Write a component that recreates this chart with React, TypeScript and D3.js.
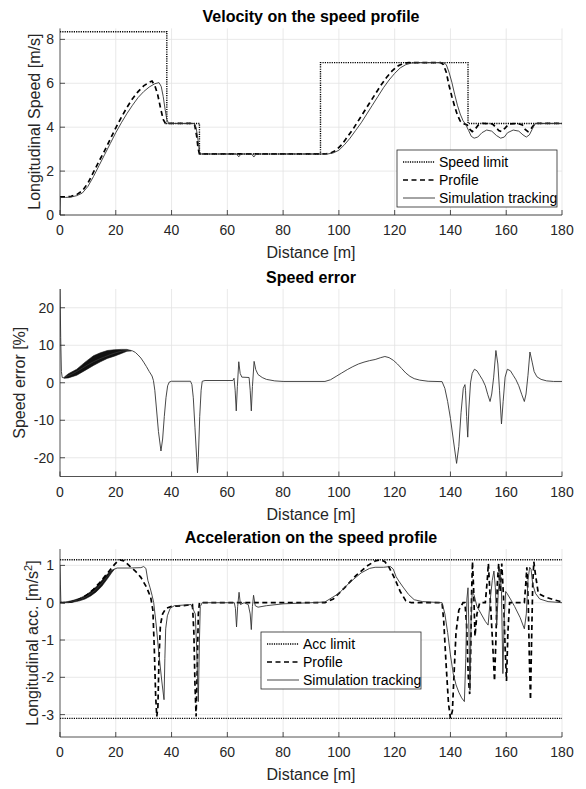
import React from 'react';
import * as d3 from 'd3';

type Pt = [number, number];
type BandPt = [number, number, number];

const distanceTicks = [0, 20, 40, 60, 80, 100, 120, 140, 160, 180];
const speedTicks = [0, 2, 4, 6, 8];
const errorTicks = [-20, -10, 0, 10, 20];
const accTicks = [-3, -2, -1, 0, 1];

// velocity panel
const speedLimit: Pt[] = [[0, 8.35], [38.3, 8.35], [38.3, 4.17], [50, 4.17], [50, 2.78], [93.4, 2.78], [93.4, 6.94], [146.3, 6.94], [146.3, 4.17], [180, 4.17]];
const speedProfile: Pt[] = [[0, 0.83], [2, 0.83], [4, 0.85], [6, 0.93], [8, 1.1], [10, 1.45], [12, 1.95], [14, 2.45], [16, 2.93], [18, 3.45], [20, 3.97], [22, 4.45], [24, 4.9], [26, 5.3], [28, 5.62], [30, 5.88], [32, 6.05], [33, 6.1], [34, 5.9], [35, 5.5], [36, 4.9], [37, 4.35], [37.8, 4.17], [47.6, 4.17], [48.3, 4.1], [49, 3.6], [49.5, 3.05], [50, 2.78], [95, 2.78], [97, 2.82], [99, 2.95], [101, 3.2], [103, 3.55], [105, 3.9], [107, 4.3], [109, 4.7], [111, 5.1], [113, 5.5], [115, 5.9], [117, 6.25], [119, 6.55], [121, 6.78], [123, 6.9], [125, 6.94], [136.5, 6.94], [137.5, 6.85], [138.5, 6.5], [139.5, 5.9], [140.5, 5.4], [141.5, 4.95], [142.5, 4.55], [143.5, 4.28], [144.5, 4.17], [146, 4.1], [147, 3.9], [147.8, 3.8], [148.8, 3.9], [150, 4.1], [151.5, 4.17], [155, 4.15], [156.3, 4.0], [157.3, 3.85], [158.3, 3.8], [159.5, 3.95], [161, 4.15], [164, 4.17], [165.8, 4.1], [166.8, 3.9], [167.8, 3.8], [169, 3.95], [170.3, 4.17], [180, 4.17]];
const speedSim: Pt[] = [[0, 0], [0.15, 0.8], [2, 0.8], [4, 0.82], [6, 0.88], [8, 1.0], [10, 1.3], [12, 1.75], [14, 2.25], [16, 2.75], [18, 3.25], [20, 3.75], [22, 4.2], [24, 4.62], [26, 5.0], [28, 5.35], [30, 5.62], [32, 5.83], [34, 5.98], [35.5, 6.03], [36.3, 5.85], [37, 5.4], [37.7, 4.8], [38.3, 4.35], [39, 4.17], [48, 4.17], [48.8, 4.0], [49.5, 3.4], [50, 2.9], [50.5, 2.78], [63.3, 2.78], [64.1, 2.65], [64.9, 2.78], [68.7, 2.78], [69.5, 2.64], [70.3, 2.78], [96, 2.78], [98, 2.83], [100, 2.95], [102, 3.2], [104, 3.5], [106, 3.85], [108, 4.2], [110, 4.6], [112, 5.0], [114, 5.4], [116, 5.8], [118, 6.15], [120, 6.45], [122, 6.7], [124, 6.85], [126, 6.92], [128, 6.94], [137.5, 6.94], [138.5, 6.85], [139.5, 6.5], [140.5, 6.05], [141.5, 5.5], [142.5, 5.0], [143.5, 4.6], [144.5, 4.3], [145.5, 4.12], [146.5, 3.85], [147.5, 3.58], [148.5, 3.5], [149.8, 3.55], [151.3, 3.75], [153, 3.87], [154.8, 3.82], [156.5, 3.62], [158, 3.5], [159.3, 3.55], [160.5, 3.75], [162.5, 3.87], [164.5, 3.82], [166, 3.65], [167.2, 3.55], [168.3, 3.65], [169.3, 3.9], [170.3, 4.15], [171, 4.17], [180, 4.17]];

// speed error panel
const speedError: Pt[] = [[0, 26], [0.25, 12], [0.5, 3], [0.8, 1.4], [1.5, 1.3], [2, 1.6], [4, 2.2], [6, 3], [8, 3.9], [10, 4.8], [12, 5.6], [14, 6.3], [16, 6.9], [18, 7.5], [20, 8], [22, 8.4], [24, 8.6], [25, 8.6], [26, 8.5], [27, 8.1], [28, 7.4], [29, 6.6], [30, 5.5], [31, 4.3], [32, 3], [33, 1.8], [33.5, 0.6], [34, -2], [34.6, -7], [35.3, -13], [36.2, -18.2], [36.8, -15], [37.4, -9], [38, -4], [38.6, -0.8], [39.2, 0.2], [40, 0.4], [46.8, 0.4], [47.3, -0.5], [47.8, -4], [48.4, -12], [49, -20], [49.3, -24], [49.6, -20], [50.1, -9], [50.6, -2], [51, 0.4], [52, 0.6], [62, 0.6], [62.4, 1.2], [62.8, -2], [63.2, -7.5], [63.6, -1], [64.1, 5.6], [64.6, 2.5], [65.2, 1.5], [67.8, 1.4], [68.2, -2], [68.6, -7.5], [69, -1], [69.6, 5.7], [70.2, 3.5], [71, 2.2], [72.5, 1.4], [74, 0.9], [77, 0.5], [80, 0.35], [95, 0.35], [97, 0.8], [99, 1.7], [101, 2.6], [103, 3.5], [105, 4.3], [107, 5.0], [109, 5.5], [111, 5.9], [113, 6.2], [115, 6.7], [116.5, 7], [118, 6.7], [119.5, 6], [121, 5], [122.5, 3.8], [124, 2.6], [125.5, 1.7], [127, 1.1], [129, 0.7], [132, 0.4], [137, 0.3], [138, -1.5], [139, -5], [140, -9.5], [141, -15], [142.2, -21.5], [143, -17], [143.8, -8], [144.6, -1.5], [145.2, -0.5], [145.4, -2], [145.8, -9], [146.2, -14.5], [146.6, -7], [147.2, 0], [147.8, 2.5], [148.6, 3.6], [149.5, 3.2], [150.5, 2.0], [151.5, 0.8], [152.5, -0.8], [153.4, -3.2], [154.2, -5], [154.8, -3], [155.5, 1.5], [156.3, 8.6], [157, 5], [157.6, -2], [158.3, -11], [158.9, -5], [159.6, 1.5], [160.4, 3.6], [161.5, 3.2], [162.5, 2.0], [163.5, 0.8], [164.5, -0.8], [165.6, -3.2], [166.5, -5], [167.1, -3], [167.8, 2], [168.5, 8.2], [169.3, 5.5], [170, 3], [171, 1.6], [172.5, 0.9], [174.5, 0.5], [177, 0.35], [180, 0.35]];
// oscillation envelope [distance, upper, lower]
const errorBand: BandPt[] = [[1.5, 1.5, 1.2], [3, 2.4, 1.3], [6, 3.6, 2.0], [9, 5.5, 3.3], [12, 7.2, 4.6], [14.5, 8.0, 5.6], [17, 8.6, 6.5], [19.5, 8.8, 7.1], [22, 8.9, 7.8], [24, 8.9, 8.4], [25.5, 8.6, 8.5]];

// acceleration panel
const accLimitUp: Pt[] = [[0, 1.15], [180, 1.15]];
const accLimitLow: Pt[] = [[0, -3.1], [180, -3.1]];
const accProfile: Pt[] = [[0, 0], [2, 0.005], [4, 0.02], [6, 0.06], [8, 0.13], [10, 0.23], [12, 0.36], [14, 0.52], [16, 0.7], [18, 0.88], [19.5, 1.02], [20.5, 1.1], [21.5, 1.15], [23, 1.12], [25, 0.98], [27, 0.85], [29, 0.68], [31, 0.42], [32.5, 0.15], [33.3, -0.2], [33.8, -1.2], [34.3, -2.5], [34.7, -3.05], [35.1, -2.8], [35.5, -1.5], [36, -0.6], [36.8, -0.3], [38, -0.15], [40, -0.1], [44, -0.08], [47.5, -0.05], [48, -0.8], [48.4, -2.2], [48.8, -3.05], [49.2, -1.8], [49.6, -0.3], [50, 0], [95, 0], [98, 0.1], [102, 0.4], [106, 0.72], [110, 0.98], [113, 1.12], [115, 1.15], [116.5, 1.1], [118, 0.95], [120, 0.65], [122, 0.3], [124, 0.05], [126, 0], [137, 0], [137.6, -0.5], [138.4, -1.6], [139.3, -2.7], [140, -3.1], [140.7, -2.9], [141.3, -1.9], [142, -0.8], [143, -0.2], [144.5, 0], [145.2, 0], [145.8, -0.6], [146.4, -2.0], [146.9, -2.45], [147.3, -1.2], [147.6, 0.3], [147.9, 1.1], [148.3, 0.4], [148.8, -0.9], [149.5, -0.3], [150.5, 0], [152.5, 0], [153.2, 0.6], [153.6, 1.05], [154.2, 0.2], [155.2, -1.2], [155.8, -2.1], [156.3, -1.0], [156.8, 0.5], [157.3, 1.05], [157.8, 0.3], [158.4, 1.05], [159, 0.2], [159.6, -1.2], [160.1, -2.1], [160.6, -0.8], [161.2, 0], [166.5, 0], [167, 0.5], [167.4, 0.95], [167.9, 0], [168.3, -1.5], [168.7, -2.6], [169.1, -1.0], [169.5, 0.5], [169.9, 1.1], [170.4, 0.8], [171.5, 0.25], [174, 0.15], [177, 0.08], [180, 0.02]];
const accSim: Pt[] = [[0, 1.0], [0.15, 0.5], [0.3, 0.02], [1, 0], [3, 0.01], [5, 0.045], [7, 0.085], [9, 0.145], [11, 0.24], [13, 0.36], [15, 0.52], [17, 0.7], [18.5, 0.83], [19.5, 0.9], [20.5, 0.93], [25, 0.93], [29, 0.94], [30, 0.97], [30.8, 0.92], [31.5, 0.6], [32.3, 0.4], [33, 0.2], [33.6, 0], [34.5, -0.6], [35.5, -1.4], [36.5, -2.1], [37.3, -2.6], [37.6, -1.5], [37.9, -0.7], [38.5, -0.35], [39.5, -0.15], [41, -0.08], [47, -0.05], [48.5, -0.3], [49, -1.2], [49.6, -2.65], [50, -1.0], [50.3, -0.1], [51, 0], [62.5, 0], [62.9, -0.15], [63.3, -0.65], [63.7, -0.1], [64.2, 0.28], [64.7, -0.05], [66, 0], [67.5, -0.05], [68.2, -0.3], [68.6, -0.72], [69, -0.1], [69.4, 0.2], [70, -0.08], [71, -0.12], [74, -0.08], [80, -0.03], [90, 0], [95, 0.02], [100, 0.25], [104, 0.55], [108, 0.8], [111, 0.92], [113, 0.95], [116, 0.95], [118.5, 0.97], [119.5, 0.9], [120.5, 0.7], [121.5, 0.58], [123, 0.42], [125, 0.22], [127, 0.08], [130, 0.03], [137, 0], [138, -0.3], [139, -0.8], [140, -1.4], [141, -1.9], [142, -2.2], [143, -2.4], [144, -2.55], [145, -2.65], [145.5, -1.5], [145.9, 0.1], [146.3, 0.4], [146.7, -1.0], [147, -2.35], [147.4, -0.5], [147.8, 0.3], [148.5, 0.2], [149.5, -0.1], [151, -0.3], [152.5, -0.5], [153.5, -0.6], [154.3, 0.1], [155, 0.6], [155.6, 0.85], [156.1, 0.4], [156.6, -0.6], [157.1, 0.2], [157.8, 0.9], [158.3, 0.3], [158.8, -1.9], [159.3, -0.4], [159.8, 0.3], [160.3, 0.25], [161.5, 0.1], [163, -0.1], [165, -0.4], [166.5, -0.7], [167.2, -0.3], [167.8, 0.6], [168.4, 0.95], [168.9, 0.9], [169.5, 0.5], [170.5, 0.25], [172, 0.1], [175, 0.03], [180, 0]];
const accBand: BandPt[] = [[1, 0.01, 0], [3, 0.035, 0], [5, 0.07, 0.02], [7, 0.12, 0.05], [9, 0.19, 0.1], [11, 0.3, 0.18], [13, 0.43, 0.29], [15, 0.6, 0.44], [17, 0.77, 0.64], [18.5, 0.87, 0.8], [19.5, 0.9, 0.9]];

const FONT = '"Liberation Sans", Arial, Helvetica, sans-serif';
const AX = '#262626';
const LEFT = 60, RIGHT = 562;

const styles: Record<string, { stroke: string; width: number; dash?: string }> = {
  limit: { stroke: '#000', width: 1.4, dash: '1.2,1.1' },
  profile: { stroke: '#000', width: 1.7, dash: '5,3.5' },
  sim: { stroke: '#333', width: 0.9 },
};

type Series = { data: Pt[]; kind: string };
type LegendDef = { x: number; y: number; w: number; h: number; items: { kind: string; label: string }[] };

function Panel(props: {
  id: string; top: number; bottom: number; yDomain: [number, number]; yTicks: number[];
  title: string; ylabel: React.ReactNode; ylabelX: number; series: Series[]; band?: BandPt[];
  legend?: LegendDef;
}) {
  const { id, top, bottom, yDomain, yTicks, title, ylabel, ylabelX, series, band, legend } = props;
  const x = d3.scaleLinear().domain([0, 180]).range([LEFT, RIGHT]);
  const y = d3.scaleLinear().domain(yDomain).range([bottom, top]);
  const line = d3.line<Pt>().x(d => x(d[0])).y(d => y(d[1]));
  const area = d3.area<BandPt>().x(d => x(d[0])).y0(d => y(d[2])).y1(d => y(d[1]));
  const cy = (top + bottom) / 2;
  return (
    <g>
      <defs>
        <clipPath id={id}>
          <rect x={LEFT} y={top} width={RIGHT - LEFT} height={bottom - top} />
        </clipPath>
      </defs>
      {distanceTicks.filter(t => t > 0).map(t => (
        <line key={'gx' + t} x1={x(t)} x2={x(t)} y1={top} y2={bottom} stroke="#e3e3e3" strokeWidth={0.8} />
      ))}
      {yTicks.map(t => (
        <line key={'gy' + t} x1={LEFT} x2={RIGHT} y1={y(t)} y2={y(t)} stroke="#e3e3e3" strokeWidth={0.8} />
      ))}
      <g clipPath={`url(#${id})`}>
        {band && <path d={area(band) || ''} fill="#111" stroke="#111" strokeWidth={0.6} />}
        {series.map((s, i) => {
          const st = styles[s.kind];
          return <path key={i} d={line(s.data) || ''} fill="none" stroke={st.stroke} strokeWidth={st.width} strokeDasharray={st.dash} />;
        })}
      </g>
      <line x1={LEFT} x2={LEFT} y1={top} y2={bottom} stroke={AX} strokeWidth={0.8} />
      <line x1={LEFT} x2={RIGHT} y1={bottom} y2={bottom} stroke={AX} strokeWidth={0.8} />
      {distanceTicks.map(t => (
        <g key={'tx' + t}>
          <line x1={x(t)} x2={x(t)} y1={bottom} y2={bottom - 5} stroke={AX} strokeWidth={0.8} />
          <text x={x(t)} y={bottom + 20} textAnchor="middle" fontSize={14} fill={AX} fontFamily={FONT}>{t}</text>
        </g>
      ))}
      {yTicks.map(t => (
        <g key={'ty' + t}>
          <line x1={LEFT} x2={LEFT + 5} y1={y(t)} y2={y(t)} stroke={AX} strokeWidth={0.8} />
          <text x={LEFT - 6} y={y(t) + 5} textAnchor="end" fontSize={14} fill={AX} fontFamily={FONT}>{t}</text>
        </g>
      ))}
      <text x={(LEFT + RIGHT) / 2} y={bottom + 43} textAnchor="middle" fontSize={16} fill={AX} fontFamily={FONT}>Distance [m]</text>
      <text x={(LEFT + RIGHT) / 2} y={top - 6} textAnchor="middle" fontSize={16} fontWeight="bold" fill="#000" fontFamily={FONT}>{title}</text>
      <text transform={`translate(${ylabelX},${cy}) rotate(-90)`} textAnchor="middle" fontSize={16} fill={AX} fontFamily={FONT}>{ylabel}</text>
      {legend && (
        <g>
          <rect x={legend.x} y={legend.y} width={legend.w} height={legend.h} fill="#fff" stroke={AX} strokeWidth={0.8} />
          {legend.items.map((it, i) => {
            const st = styles[it.kind];
            const ly = legend.y + 12 + i * 18;
            return (
              <g key={it.label}>
                <line x1={legend.x + 6} x2={legend.x + 38} y1={ly} y2={ly} stroke={st.stroke} strokeWidth={st.width} strokeDasharray={st.dash} />
                <text x={legend.x + 42} y={ly + 5} fontSize={14} fill="#000" fontFamily={FONT}>{it.label}</text>
              </g>
            );
          })}
        </g>
      )}
    </g>
  );
}

export default function App() {
  return (
    <svg width={586} height={789} style={{ position: 'absolute', left: 0, top: 0, background: '#fff' }}>
      <rect width={586} height={789} fill="#fff" />
      <Panel id="c1" top={28.4} bottom={215} yDomain={[0, 8.5]} yTicks={speedTicks}
        title="Velocity on the speed profile" ylabel="Longitudinal Speed [m/s]" ylabelX={40}
        series={[{ data: speedLimit, kind: 'limit' }, { data: speedProfile, kind: 'profile' }, { data: speedSim, kind: 'sim' }]}
        legend={{ x: 397, y: 150, w: 160, h: 57, items: [{ kind: 'limit', label: 'Speed limit' }, { kind: 'profile', label: 'Profile' }, { kind: 'sim', label: 'Simulation tracking' }] }} />
      <Panel id="c2" top={289} bottom={476.5} yDomain={[-25, 25]} yTicks={errorTicks}
        title="Speed error" ylabel="Speed error [%]" ylabelX={25}
        series={[{ data: speedError, kind: 'sim' }]} band={errorBand} />
      <Panel id="c3" top={549} bottom={737} yDomain={[-3.6, 1.44]} yTicks={accTicks}
        title="Acceleration on the speed profile"
        ylabel={<><tspan>Longitudinal acc. [m/s</tspan><tspan dy={-6} fontSize={11}>2</tspan><tspan dy={6}>]</tspan></>}
        ylabelX={38}
        series={[{ data: accLimitUp, kind: 'limit' }, { data: accLimitLow, kind: 'limit' }, { data: accProfile, kind: 'profile' }, { data: accSim, kind: 'sim' }]}
        band={accBand}
        legend={{ x: 261, y: 632, w: 160, h: 57, items: [{ kind: 'limit', label: 'Acc limit' }, { kind: 'profile', label: 'Profile' }, { kind: 'sim', label: 'Simulation tracking' }] }} />
    </svg>
  );
}
